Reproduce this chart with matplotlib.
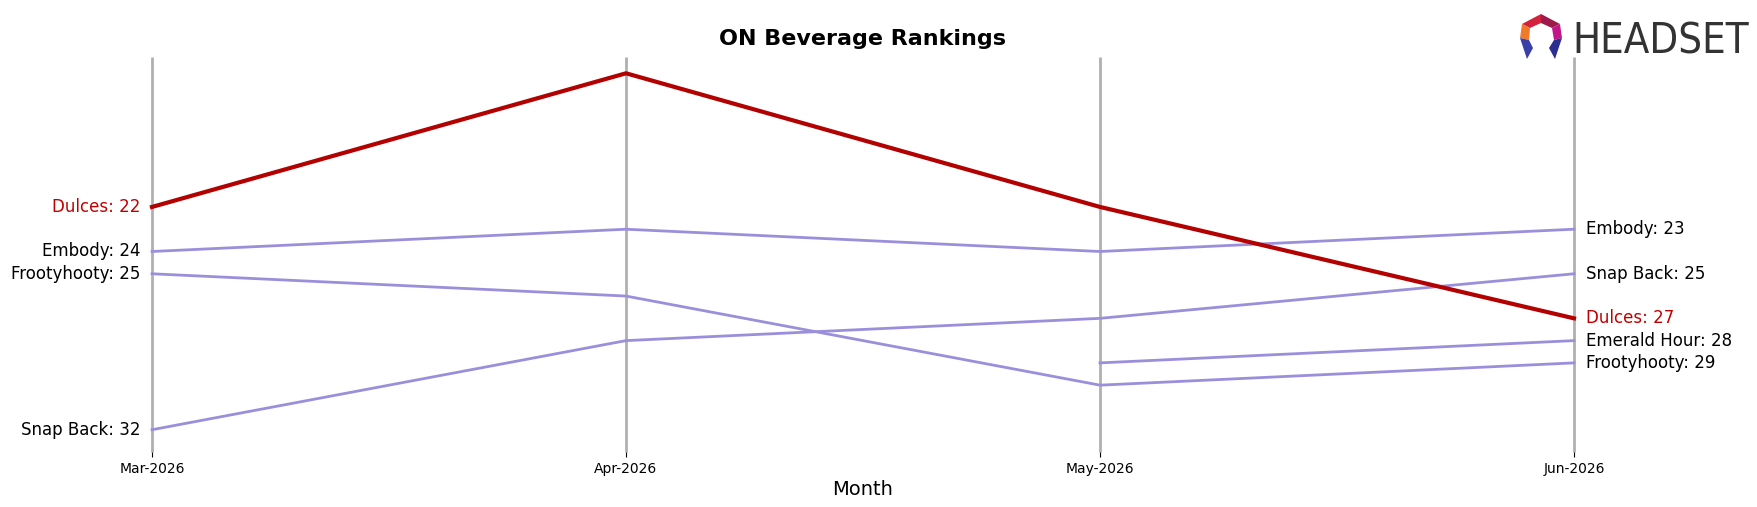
import matplotlib
matplotlib.use("Agg")
import matplotlib.pyplot as plt
from matplotlib.patches import Polygon

months = ["Mar-2026", "Apr-2026", "May-2026", "Jun-2026"]
dulces = [22, 16, 22, 27]
embody = [24, 23, 24, 23]
frootyhooty = [25, 26, 30, 29]
snap_back = [32, 28, 27, 25]
emerald_hour = [None, None, 29, 28]

others = {
    "Embody": embody,
    "Frootyhooty": frootyhooty,
    "Snap Back": snap_back,
    "Emerald Hour": emerald_hour,
}

W, H = 1757, 507
fig = plt.figure(figsize=(W / 100, H / 100), dpi=100)
ax = fig.add_axes([152 / W, 1 - 452 / H, (1574 - 152) / W, (452 - 51) / H])

xs = list(range(len(months)))
ax.vlines(xs, 33, 15.25, color="#b0b0b0", lw=2, zorder=1, clip_on=False)

purple = "#9b8fdc"
red = "#b30000"
for name, vals in others.items():
    px = [x for x, v in zip(xs, vals) if v is not None]
    pv = [v for v in vals if v is not None]
    ax.plot(px, pv, color=purple, lw=2, zorder=2, clip_on=False)
    if vals[0] is not None:
        ax.text(-0.025, vals[0], f"{name}: {vals[0]}", ha="right", va="center", fontsize=12, color="black")
    if vals[-1] is not None:
        ax.text(3.025, vals[-1], f"{name}: {vals[-1]}", ha="left", va="center", fontsize=12, color="black")

ax.plot(xs, dulces, color=red, lw=3, zorder=3, clip_on=False)
ax.text(-0.025, dulces[0], f"Dulces: {dulces[0]}", ha="right", va="center", fontsize=12, color="#c00000")
ax.text(3.025, dulces[-1], f"Dulces: {dulces[-1]}", ha="left", va="center", fontsize=12, color="#c00000")

ax.set_xlim(0, 3)
ax.set_ylim(33, 15)
ax.set_xticks(xs)
ax.set_xticklabels(months, fontsize=10)
ax.set_yticks([])
for s in ax.spines.values():
    s.set_visible(False)
ax.set_xlabel("Month", fontsize=14, labelpad=3)
ax.set_title("ON Beverage Rankings", fontsize=16, fontweight="bold", pad=4)

# Logo
lax = fig.add_axes([1518 / W, 1 - 61 / H, 46 / W, 48 / H])
lax.set_xlim(0, 46)
lax.set_ylim(0, 48)
lax.axis("off")
polys = [
    ([(4, 37), (23, 47), (23, 38), (12, 33)], "#d4213d"),
    ([(23, 47), (42, 37), (34, 33), (23, 38)], "#9e1a4a"),
    ([(42, 37), (44, 23), (36, 21), (34, 33)], "#c2178a"),
    ([(4, 37), (12, 33), (11, 21), (2, 23)], "#f07a2a"),
    ([(2, 23), (11, 21), (15, 13), (9, 2)], "#3a3fa8"),
    ([(44, 23), (36, 21), (31, 13), (37, 2)], "#2a2f90"),
]
for pts, c in polys:
    lax.add_patch(Polygon(pts, closed=True, color=c, lw=0))
fig.text(1572 / W, 1 - 53 / H, "HEADSET", fontsize=30, color="#333333",
         ha="left", va="baseline", family="DejaVu Sans", fontstretch="condensed")

fig.savefig("out.png", dpi=100)
